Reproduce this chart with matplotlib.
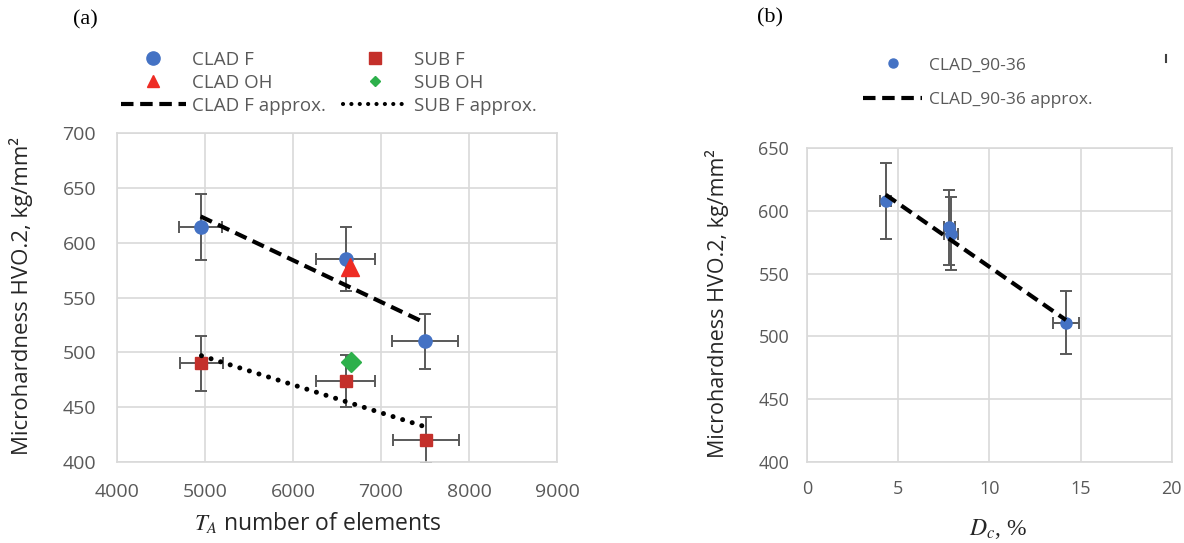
import matplotlib
matplotlib.use("Agg")
import matplotlib.pyplot as plt
from matplotlib.lines import Line2D

plt.rcParams['font.family'] = ['Open Sans', 'DejaVu Sans']
plt.rcParams['mathtext.fontset'] = 'stix'

# (a) values
clad_f_x = [4950, 6600, 7500]
clad_f_y = [614, 585, 510]
clad_f_xerr = [245, 335, 375]
clad_f_yerr = [30, 29, 25]

sub_f_x = [4960, 6600, 7510]
sub_f_y = [490, 474, 420]
sub_f_xerr = [245, 335, 375]
sub_f_yerr = [25, 24, 21]

clad_oh_x = [6650]
clad_oh_y = [578]
sub_oh_x = [6660]
sub_oh_y = [491]

# trend lines (end points as drawn)
clad_fit_x = [4950, 7500]
clad_fit_y = [624, 527]
sub_fit_x = [4960, 7510]
sub_fit_y = [497, 432]

# (b) values
dc = [4.3, 7.8, 7.9, 14.2]
hv = [608, 587, 582, 511]
dc_err = [0.3, 0.3, 0.4, 0.7]
hv_err = [30, 30, 29, 25]
b_fit_x = [4.3, 14.2]
b_fit_y = [613, 513]

grid_c = '#d9d9d9'
tick_c = '#595959'
err_c = '#595959'
blue = '#4472C4'
red_sq = '#C4302B'
red_tri = '#EE2C24'
green = '#2DB04B'
dash = (0, (3, 1.6))
dots = (0, (0.01, 2.0))

fig = plt.figure(figsize=(11.84, 5.43), dpi=100)
ax1 = fig.add_axes([0.0988, 0.149, 0.3716, 0.606])
ax2 = fig.add_axes([0.6818, 0.1497, 0.3078, 0.5772])


def style(ax, size, pad):
    ax.grid(True, color=grid_c, linewidth=1.2)
    ax.set_axisbelow(True)
    for s in ax.spines.values():
        s.set_color(grid_c)
        s.set_linewidth(1.2)
    ax.tick_params(length=0, labelsize=size, labelcolor=tick_c, pad=pad)


# ---- (a)
ax1.errorbar(clad_f_x, clad_f_y, xerr=clad_f_xerr, yerr=clad_f_yerr, fmt='none',
             ecolor=err_c, elinewidth=1.4, capsize=4, capthick=1.4, zorder=2)
ax1.errorbar(sub_f_x, sub_f_y, xerr=sub_f_xerr, yerr=sub_f_yerr, fmt='none',
             ecolor=err_c, elinewidth=1.4, capsize=4, capthick=1.4, zorder=2)
ax1.plot(clad_f_x, clad_f_y, 'o', color=blue, ms=9.5, ls='none', zorder=3)
ax1.plot(clad_oh_x, clad_oh_y, '^', color=red_tri, ms=13, ls='none', zorder=3)
ax1.plot(sub_f_x, sub_f_y, 's', color=red_sq, ms=9, ls='none', zorder=3)
ax1.plot(sub_oh_x, sub_oh_y, 'D', color=green, ms=10, ls='none', zorder=3)
ax1.plot(clad_fit_x, clad_fit_y, color='black', lw=3, ls=dash, zorder=4)
ax1.plot(sub_fit_x, sub_fit_y, color='black', lw=3.6, ls=dots,
         dash_capstyle='round', zorder=4)

ax1.set_xlim(4000, 9000)
ax1.set_ylim(400, 700)
ax1.set_xticks(range(4000, 9001, 1000))
ax1.set_yticks(range(400, 701, 50))
style(ax1, 14, 15)
ax1.set_ylabel('Microhardness HVO.2, kg/mm²', fontsize=16, color='#262626')
ax1.yaxis.set_label_coords(-0.191, 0.505)
ax1.set_xlabel(r'$T_A$ number of elements', fontsize=16.5, color='#262626')
ax1.xaxis.set_label_coords(0.457, -0.148)

leg_h = [
    Line2D([], [], marker='o', color=blue, ms=9.5, ls='none'),
    Line2D([], [], marker='^', color=red_tri, ms=8, ls='none'),
    Line2D([], [], color='black', lw=3, ls=dash),
    Line2D([], [], marker='s', color=red_sq, ms=8.5, ls='none'),
    Line2D([], [], marker='D', color=green, ms=5.5, ls='none'),
    Line2D([], [], color='black', lw=3, ls=dots, dash_capstyle='round'),
]
leg_l = ['CLAD F', 'CLAD OH', 'CLAD F approx.', 'SUB F', 'SUB OH', 'SUB F approx.']
leg1 = ax1.legend(leg_h, leg_l, ncol=2, loc='lower left',
                  bbox_to_anchor=(-0.026, 1.01), frameon=False, fontsize=13.5,
                  handlelength=3.5, columnspacing=0.9, labelspacing=0.27,
                  handletextpad=0.3, borderaxespad=0.4)
for t in leg1.get_texts():
    t.set_color(tick_c)

# ---- (b)
ax2.errorbar(dc, hv, xerr=dc_err, yerr=hv_err, fmt='none', ecolor=err_c,
             elinewidth=1.4, capsize=4, capthick=1.4, zorder=2)
ax2.plot(dc, hv, 'o', color=blue, ms=8, ls='none', zorder=3)
ax2.plot(b_fit_x, b_fit_y, color='black', lw=3, ls=dash, zorder=4)
ax2.set_xlim(0, 20)
ax2.set_ylim(400, 650)
ax2.set_xticks(range(0, 21, 5))
ax2.set_yticks(range(400, 651, 50))
style(ax2, 13, 13)
ax2.set_ylabel('Microhardness HVO.2, kg/mm²', fontsize=15.5, color='#262626')
ax2.yaxis.set_label_coords(-0.215, 0.505)
ax2.set_xlabel(r'$D_c$, %', fontsize=17, color='#262626', family='Liberation Serif')
ax2.xaxis.set_label_coords(0.523, -0.175)

leg2_h = [
    Line2D([], [], marker='o', color=blue, ms=6.5, ls='none'),
    Line2D([], [], color='black', lw=3, ls=dash),
]
leg2 = ax2.legend(leg2_h, ['CLAD_90-36', 'CLAD_90-36 approx.'], loc='lower left',
                  bbox_to_anchor=(0.12, 1.09), frameon=False, fontsize=12.5,
                  handlelength=3.4, labelspacing=1.05, handletextpad=0.4,
                  borderaxespad=0.3)
for t in leg2.get_texts():
    t.set_color(tick_c)

fig.text(85 / 1184, 1 - 20 / 543, '(a)', family='Liberation Serif', fontsize=16,
         ha='center', va='center')
fig.text(770 / 1184, 1 - 18 / 543, '(b)', family='Liberation Serif', fontsize=16,
         ha='center', va='center')
fig.add_artist(Line2D([1166 / 1184, 1166 / 1184], [1 - 55 / 543, 1 - 62 / 543],
                      color='#404040', lw=1.5))

fig.savefig('out.png', dpi=100)
